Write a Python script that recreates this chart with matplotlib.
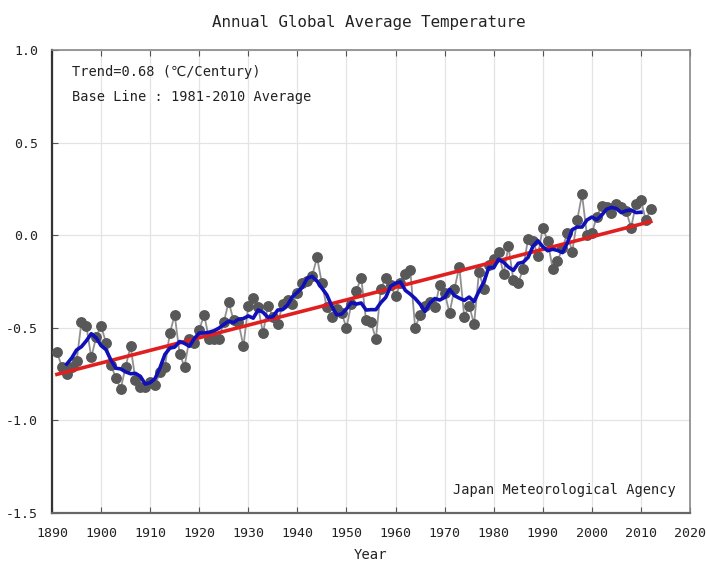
import numpy as np
import matplotlib
matplotlib.use("Agg")
import matplotlib.pyplot as plt

years = list(range(1891, 2013))
anomaly = [
    -0.63, -0.71, -0.75, -0.71, -0.68, -0.47, -0.49, -0.66, -0.55, -0.49,  # 1891-1900
    -0.58, -0.70, -0.77, -0.83, -0.71, -0.60, -0.78, -0.82, -0.82, -0.79,  # 1901-1910
    -0.81, -0.74, -0.71, -0.53, -0.43, -0.64, -0.71, -0.56, -0.58, -0.51,  # 1911-1920
    -0.43, -0.56, -0.56, -0.56, -0.47, -0.36, -0.46, -0.47, -0.60, -0.38,  # 1921-1930
    -0.34, -0.39, -0.53, -0.38, -0.44, -0.48, -0.37, -0.35, -0.37, -0.31,  # 1931-1940
    -0.26, -0.25, -0.22, -0.12, -0.26, -0.39, -0.44, -0.40, -0.42, -0.50,  # 1941-1950
    -0.37, -0.30, -0.23, -0.46, -0.47, -0.56, -0.29, -0.23, -0.27, -0.33,  # 1951-1960
    -0.26, -0.21, -0.19, -0.50, -0.43, -0.38, -0.36, -0.39, -0.27, -0.31,  # 1961-1970
    -0.42, -0.29, -0.17, -0.44, -0.38, -0.48, -0.20, -0.29, -0.16, -0.13,  # 1971-1980
    -0.09, -0.21, -0.06, -0.24, -0.26, -0.18, -0.02, -0.03, -0.11, 0.04,   # 1981-1990
    -0.03, -0.18, -0.14, -0.07, 0.01, -0.09, 0.08, 0.22, 0.00, 0.01,       # 1991-2000
    0.10, 0.16, 0.15, 0.12, 0.17, 0.15, 0.13, 0.04, 0.17, 0.19,            # 2001-2010
    0.08, 0.14,                                                            # 2011-2012
]
x_ticks = list(range(1890, 2021, 10))
y_ticks = [-1.5, -1.0, -0.5, 0.0, 0.5, 1.0]
title = "Annual Global Average Temperature"
trend_text = "Trend=0.68 (\u2103/Century)"
base_text = "Base Line : 1981-2010 Average"
source_text = "Japan Meteorological Agency"
xlabel = "Year"

yr = np.array(years, dtype=float)
an = np.array(anomaly)
# 5-year running mean
rm = np.convolve(an, np.ones(5) / 5, mode="valid")
rm_years = yr[2:-2]
# linear trend
coef = np.polyfit(yr, an, 1)
trend = np.polyval(coef, yr)

mono = ["DejaVu Sans Mono", "DejaVu Sans", "Noto Sans CJK JP"]

fig = plt.figure(figsize=(7.06, 5.64), dpi=100)
ax = fig.add_axes([52 / 706, 1 - 513 / 564, (690 - 52) / 706, (513 - 50) / 564])

ax.grid(True, color="#e4e4e4", linewidth=0.9, zorder=0)
ax.plot(yr, an, color="#909090", linewidth=1.3, zorder=2)
ax.plot(yr, an, linestyle="none", marker="o", markersize=6.8,
        markerfacecolor="#585858", markeredgecolor="#585858", zorder=3)
ax.plot(yr, trend, color="#e02020", linewidth=2.6, zorder=4)
ax.plot(rm_years, rm, color="#1010b8", linewidth=2.6, zorder=5)

ax.set_xlim(1890, 2020)
ax.set_ylim(-1.5, 1.0)
ax.set_xticks(x_ticks)
ax.set_xticklabels([str(t) for t in x_ticks], family=mono, fontsize=9.5, color="#222222")
ax.set_yticks(y_ticks)
ax.set_yticklabels([f"{t:.1f}" for t in y_ticks], family=mono, fontsize=9.5, color="#222222")
ax.tick_params(axis="x", direction="in", top=True, bottom=True, length=4,
               color="#555555", pad=10)
ax.tick_params(axis="y", direction="in", left=True, right=False, length=4,
               color="#555555", pad=10)

for side in ["top", "right"]:
    ax.spines[side].set_color("#888888")
    ax.spines[side].set_linewidth(1.2)
for side in ["left", "bottom"]:
    ax.spines[side].set_color("#333333")
    ax.spines[side].set_linewidth(1.6)
ax.spines["bottom"].set_color("#666666")

ax.text(72 / 706, 1 - 72 / 564, trend_text, transform=fig.transFigure,
        family=mono, fontsize=9.8, va="center", ha="left", color="#222222")
ax.text(72 / 706, 1 - 97 / 564, base_text, transform=fig.transFigure,
        family=mono, fontsize=9.8, va="center", ha="left", color="#222222")
ax.text(676 / 706, 1 - 490 / 564, source_text, transform=fig.transFigure,
        family=mono, fontsize=9.8, va="center", ha="right", color="#222222")

fig.text(369 / 706, 1 - 22 / 564, title, family=mono, fontsize=11.4,
         ha="center", va="center", color="#222222")
fig.text(370 / 706, 1 - 555 / 564, xlabel, family=mono, fontsize=10,
         ha="center", va="center", color="#222222")

fig.savefig("out.png", dpi=100)
